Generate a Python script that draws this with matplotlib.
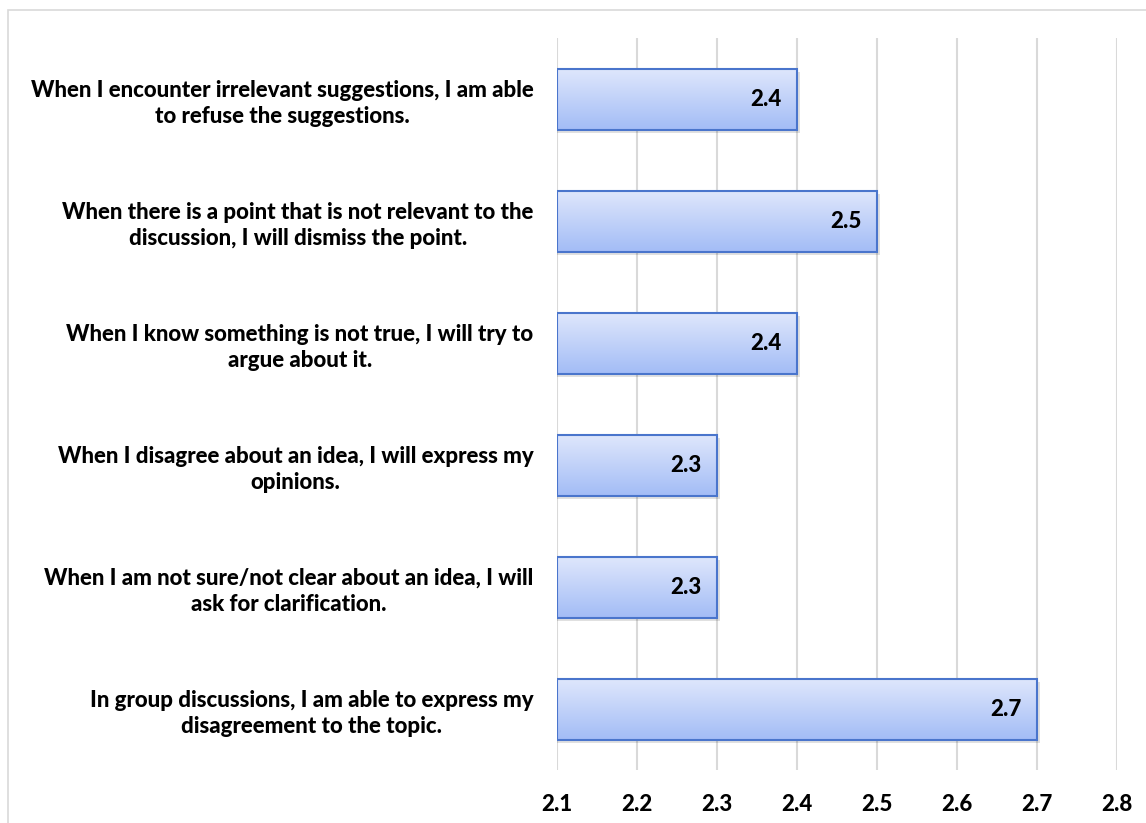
import numpy as np
import matplotlib.pyplot as plt
from matplotlib.patches import Rectangle
from matplotlib.colors import LinearSegmentedColormap

statements = [
    "When I encounter irrelevant suggestions, I am able\nto refuse the suggestions.",
    "When there is a point that is not relevant to the\ndiscussion, I will dismiss the point.",
    "When I know something is not true, I will try to\nargue about it.",
    "When I disagree about an idea, I will express my\nopinions.",
    "When I am not sure/not clear about an idea, I will\nask for clarification.",
    "In group discussions, I am able to express my\ndisagreement to the topic.",
]
scores = [2.4, 2.5, 2.4, 2.3, 2.3, 2.7]
xticks = [2.1, 2.2, 2.3, 2.4, 2.5, 2.6, 2.7, 2.8]

plt.rcParams['font.family'] = ['Lato', 'DejaVu Sans']

fig = plt.figure(figsize=(11.46, 8.23), dpi=100)
W, H = 1146, 823
ax = fig.add_axes([557 / W, 1 - 770 / H, (1117 - 557) / W, (770 - 38) / H])

# chart frame (light grey, runs off right/bottom edge)
fig.patches.append(Rectangle((8 / W, -0.1), 1.2, 1 - 10 / H + 0.1,
                             transform=fig.transFigure, fill=False,
                             edgecolor='#d9d9d9', linewidth=1.2, zorder=0))

y = np.arange(len(statements))
xmin = 2.1
fs = 16

grad = LinearSegmentedColormap.from_list('g', ['#dfe7fc', '#a4bdf6'])
gimg = np.linspace(0, 1, 100).reshape(-1, 1)
h = 0.5
for yi, v in zip(y, scores):
    # shadow
    ax.add_patch(Rectangle((xmin, yi - h / 2 + 0.03), v - xmin + 0.004, h,
                           facecolor='#000000', alpha=0.12, edgecolor='none', zorder=2))
    ax.imshow(gimg, cmap=grad, aspect='auto', extent=(xmin, v, yi + h / 2, yi - h / 2),
              origin='upper', zorder=3)
    ax.add_patch(Rectangle((xmin, yi - h / 2), v - xmin, h, facecolor='none',
                           edgecolor='#4a75cc', linewidth=1.5, zorder=4))
    ax.text(v - 0.019, yi, f"{v:.1f}", ha='right', va='center',
            fontsize=fs, fontweight='black', color='black', zorder=5)

ax.set_xlim(2.1, 2.8)
ax.set_ylim(len(statements) - 0.5, -0.5)
ax.set_xticks(xticks)
ax.set_xticklabels([f"{t:.1f}" for t in xticks], fontsize=fs, fontweight='black')
ax.set_yticks(y)
ax.set_yticklabels(statements, fontsize=fs, fontweight='black', ha='right',
                   multialignment='center', linespacing=1.3)
ax.tick_params(axis='y', length=0, pad=17)
ax.tick_params(axis='x', length=0, pad=17)
ax.grid(axis='x', color='#d9d9d9', linewidth=1.5, zorder=0)
ax.set_axisbelow(True)
for s in ax.spines.values():
    s.set_visible(False)

fig.savefig('out.png', dpi=100)
